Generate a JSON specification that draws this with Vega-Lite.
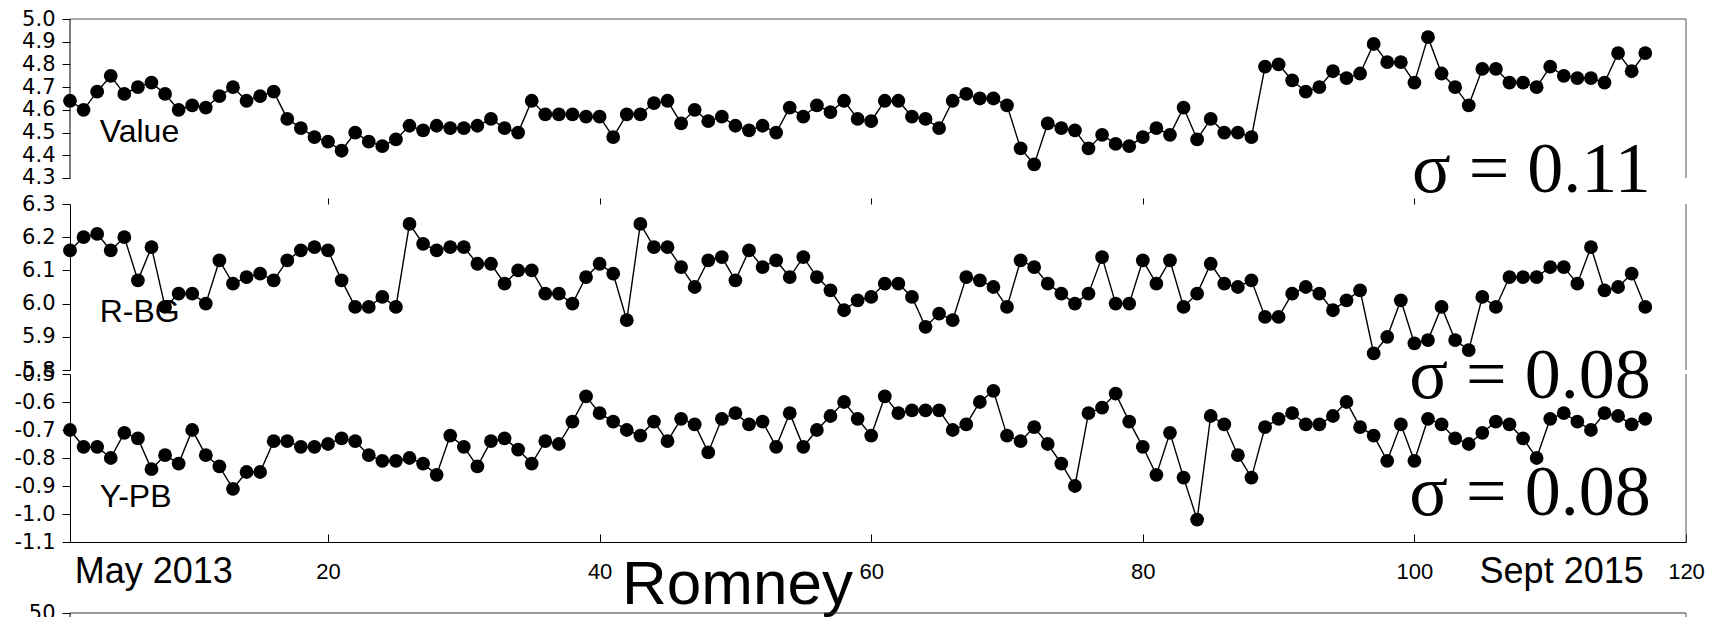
{
  "$schema": "https://vega.github.io/schema/vega-lite/v6.json",
  "padding": {"left": 14, "top": 8, "right": 0, "bottom": 0},
  "background": "white",
  "config": {
    "view": {"stroke": null},
    "locale": {"number": {"decimal": ".", "thousands": ",", "grouping": [3], "currency": ["$", ""], "minus": "-"}}
  },
  "datasets": {
    "value": [
      {"i":1,"v":4.64},{"i":2,"v":4.60},{"i":3,"v":4.68},{"i":4,"v":4.75},{"i":5,"v":4.67},{"i":6,"v":4.70},{"i":7,"v":4.72},{"i":8,"v":4.67},{"i":9,"v":4.60},{"i":10,"v":4.62},
      {"i":11,"v":4.61},{"i":12,"v":4.66},{"i":13,"v":4.70},{"i":14,"v":4.64},{"i":15,"v":4.66},{"i":16,"v":4.68},{"i":17,"v":4.56},{"i":18,"v":4.52},{"i":19,"v":4.48},{"i":20,"v":4.46},
      {"i":21,"v":4.42},{"i":22,"v":4.50},{"i":23,"v":4.46},{"i":24,"v":4.44},{"i":25,"v":4.47},{"i":26,"v":4.53},{"i":27,"v":4.51},{"i":28,"v":4.53},{"i":29,"v":4.52},{"i":30,"v":4.52},
      {"i":31,"v":4.53},{"i":32,"v":4.56},{"i":33,"v":4.52},{"i":34,"v":4.50},{"i":35,"v":4.64},{"i":36,"v":4.58},{"i":37,"v":4.58},{"i":38,"v":4.58},{"i":39,"v":4.57},{"i":40,"v":4.57},
      {"i":41,"v":4.48},{"i":42,"v":4.58},{"i":43,"v":4.58},{"i":44,"v":4.63},{"i":45,"v":4.64},{"i":46,"v":4.54},{"i":47,"v":4.60},{"i":48,"v":4.55},{"i":49,"v":4.57},{"i":50,"v":4.53},
      {"i":51,"v":4.51},{"i":52,"v":4.53},{"i":53,"v":4.50},{"i":54,"v":4.61},{"i":55,"v":4.57},{"i":56,"v":4.62},{"i":57,"v":4.59},{"i":58,"v":4.64},{"i":59,"v":4.56},{"i":60,"v":4.55},
      {"i":61,"v":4.64},{"i":62,"v":4.64},{"i":63,"v":4.57},{"i":64,"v":4.56},{"i":65,"v":4.52},{"i":66,"v":4.64},{"i":67,"v":4.67},{"i":68,"v":4.65},{"i":69,"v":4.65},{"i":70,"v":4.62},
      {"i":71,"v":4.43},{"i":72,"v":4.36},{"i":73,"v":4.54},{"i":74,"v":4.52},{"i":75,"v":4.51},{"i":76,"v":4.43},{"i":77,"v":4.49},{"i":78,"v":4.45},{"i":79,"v":4.44},{"i":80,"v":4.48},
      {"i":81,"v":4.52},{"i":82,"v":4.49},{"i":83,"v":4.61},{"i":84,"v":4.47},{"i":85,"v":4.56},{"i":86,"v":4.50},{"i":87,"v":4.50},{"i":88,"v":4.48},{"i":89,"v":4.79},{"i":90,"v":4.80},
      {"i":91,"v":4.73},{"i":92,"v":4.68},{"i":93,"v":4.70},{"i":94,"v":4.77},{"i":95,"v":4.74},{"i":96,"v":4.76},{"i":97,"v":4.89},{"i":98,"v":4.81},{"i":99,"v":4.81},{"i":100,"v":4.72},
      {"i":101,"v":4.92},{"i":102,"v":4.76},{"i":103,"v":4.70},{"i":104,"v":4.62},{"i":105,"v":4.78},{"i":106,"v":4.78},{"i":107,"v":4.72},{"i":108,"v":4.72},{"i":109,"v":4.70},{"i":110,"v":4.79},
      {"i":111,"v":4.75},{"i":112,"v":4.74},{"i":113,"v":4.74},{"i":114,"v":4.72},{"i":115,"v":4.85},{"i":116,"v":4.77},{"i":117,"v":4.85}
    ],
    "rbg": [
      {"i":1,"v":6.16},{"i":2,"v":6.20},{"i":3,"v":6.21},{"i":4,"v":6.16},{"i":5,"v":6.20},{"i":6,"v":6.07},{"i":7,"v":6.17},{"i":8,"v":5.99},{"i":9,"v":6.03},{"i":10,"v":6.03},
      {"i":11,"v":6.00},{"i":12,"v":6.13},{"i":13,"v":6.06},{"i":14,"v":6.08},{"i":15,"v":6.09},{"i":16,"v":6.07},{"i":17,"v":6.13},{"i":18,"v":6.16},{"i":19,"v":6.17},{"i":20,"v":6.16},
      {"i":21,"v":6.07},{"i":22,"v":5.99},{"i":23,"v":5.99},{"i":24,"v":6.02},{"i":25,"v":5.99},{"i":26,"v":6.24},{"i":27,"v":6.18},{"i":28,"v":6.16},{"i":29,"v":6.17},{"i":30,"v":6.17},
      {"i":31,"v":6.12},{"i":32,"v":6.12},{"i":33,"v":6.06},{"i":34,"v":6.10},{"i":35,"v":6.10},{"i":36,"v":6.03},{"i":37,"v":6.03},{"i":38,"v":6.00},{"i":39,"v":6.08},{"i":40,"v":6.12},
      {"i":41,"v":6.09},{"i":42,"v":5.95},{"i":43,"v":6.24},{"i":44,"v":6.17},{"i":45,"v":6.17},{"i":46,"v":6.11},{"i":47,"v":6.05},{"i":48,"v":6.13},{"i":49,"v":6.14},{"i":50,"v":6.07},
      {"i":51,"v":6.16},{"i":52,"v":6.11},{"i":53,"v":6.13},{"i":54,"v":6.08},{"i":55,"v":6.14},{"i":56,"v":6.08},{"i":57,"v":6.04},{"i":58,"v":5.98},{"i":59,"v":6.01},{"i":60,"v":6.02},
      {"i":61,"v":6.06},{"i":62,"v":6.06},{"i":63,"v":6.02},{"i":64,"v":5.93},{"i":65,"v":5.97},{"i":66,"v":5.95},{"i":67,"v":6.08},{"i":68,"v":6.07},{"i":69,"v":6.05},{"i":70,"v":5.99},
      {"i":71,"v":6.13},{"i":72,"v":6.11},{"i":73,"v":6.06},{"i":74,"v":6.03},{"i":75,"v":6.00},{"i":76,"v":6.03},{"i":77,"v":6.14},{"i":78,"v":6.00},{"i":79,"v":6.00},{"i":80,"v":6.13},
      {"i":81,"v":6.06},{"i":82,"v":6.13},{"i":83,"v":5.99},{"i":84,"v":6.03},{"i":85,"v":6.12},{"i":86,"v":6.06},{"i":87,"v":6.05},{"i":88,"v":6.07},{"i":89,"v":5.96},{"i":90,"v":5.96},
      {"i":91,"v":6.03},{"i":92,"v":6.05},{"i":93,"v":6.03},{"i":94,"v":5.98},{"i":95,"v":6.01},{"i":96,"v":6.04},{"i":97,"v":5.85},{"i":98,"v":5.90},{"i":99,"v":6.01},{"i":100,"v":5.88},
      {"i":101,"v":5.89},{"i":102,"v":5.99},{"i":103,"v":5.89},{"i":104,"v":5.86},{"i":105,"v":6.02},{"i":106,"v":5.99},{"i":107,"v":6.08},{"i":108,"v":6.08},{"i":109,"v":6.08},{"i":110,"v":6.11},
      {"i":111,"v":6.11},{"i":112,"v":6.06},{"i":113,"v":6.17},{"i":114,"v":6.04},{"i":115,"v":6.05},{"i":116,"v":6.09},{"i":117,"v":5.99}
    ],
    "ypb": [
      {"i":1,"v":-0.70},{"i":2,"v":-0.76},{"i":3,"v":-0.76},{"i":4,"v":-0.80},{"i":5,"v":-0.71},{"i":6,"v":-0.73},{"i":7,"v":-0.84},{"i":8,"v":-0.79},{"i":9,"v":-0.82},{"i":10,"v":-0.70},
      {"i":11,"v":-0.79},{"i":12,"v":-0.83},{"i":13,"v":-0.91},{"i":14,"v":-0.85},{"i":15,"v":-0.85},{"i":16,"v":-0.74},{"i":17,"v":-0.74},{"i":18,"v":-0.76},{"i":19,"v":-0.76},{"i":20,"v":-0.75},
      {"i":21,"v":-0.73},{"i":22,"v":-0.74},{"i":23,"v":-0.79},{"i":24,"v":-0.81},{"i":25,"v":-0.81},{"i":26,"v":-0.80},{"i":27,"v":-0.82},{"i":28,"v":-0.86},{"i":29,"v":-0.72},{"i":30,"v":-0.76},
      {"i":31,"v":-0.83},{"i":32,"v":-0.74},{"i":33,"v":-0.73},{"i":34,"v":-0.77},{"i":35,"v":-0.82},{"i":36,"v":-0.74},{"i":37,"v":-0.75},{"i":38,"v":-0.67},{"i":39,"v":-0.58},{"i":40,"v":-0.64},
      {"i":41,"v":-0.67},{"i":42,"v":-0.70},{"i":43,"v":-0.72},{"i":44,"v":-0.67},{"i":45,"v":-0.74},{"i":46,"v":-0.66},{"i":47,"v":-0.68},{"i":48,"v":-0.78},{"i":49,"v":-0.66},{"i":50,"v":-0.64},
      {"i":51,"v":-0.68},{"i":52,"v":-0.67},{"i":53,"v":-0.76},{"i":54,"v":-0.64},{"i":55,"v":-0.76},{"i":56,"v":-0.70},{"i":57,"v":-0.65},{"i":58,"v":-0.60},{"i":59,"v":-0.66},{"i":60,"v":-0.72},
      {"i":61,"v":-0.58},{"i":62,"v":-0.64},{"i":63,"v":-0.63},{"i":64,"v":-0.63},{"i":65,"v":-0.63},{"i":66,"v":-0.70},{"i":67,"v":-0.68},{"i":68,"v":-0.60},{"i":69,"v":-0.56},{"i":70,"v":-0.72},
      {"i":71,"v":-0.74},{"i":72,"v":-0.69},{"i":73,"v":-0.75},{"i":74,"v":-0.82},{"i":75,"v":-0.90},{"i":76,"v":-0.64},{"i":77,"v":-0.62},{"i":78,"v":-0.57},{"i":79,"v":-0.67},{"i":80,"v":-0.76},
      {"i":81,"v":-0.86},{"i":82,"v":-0.71},{"i":83,"v":-0.87},{"i":84,"v":-1.02},{"i":85,"v":-0.65},{"i":86,"v":-0.68},{"i":87,"v":-0.79},{"i":88,"v":-0.87},{"i":89,"v":-0.69},{"i":90,"v":-0.66},
      {"i":91,"v":-0.64},{"i":92,"v":-0.68},{"i":93,"v":-0.68},{"i":94,"v":-0.65},{"i":95,"v":-0.60},{"i":96,"v":-0.69},{"i":97,"v":-0.72},{"i":98,"v":-0.81},{"i":99,"v":-0.68},{"i":100,"v":-0.81},
      {"i":101,"v":-0.66},{"i":102,"v":-0.68},{"i":103,"v":-0.73},{"i":104,"v":-0.75},{"i":105,"v":-0.71},{"i":106,"v":-0.67},{"i":107,"v":-0.68},{"i":108,"v":-0.73},{"i":109,"v":-0.80},{"i":110,"v":-0.66},
      {"i":111,"v":-0.64},{"i":112,"v":-0.67},{"i":113,"v":-0.70},{"i":114,"v":-0.64},{"i":115,"v":-0.65},{"i":116,"v":-0.68},{"i":117,"v":-0.66}
    ]
  },
  "vconcat": [
    {
      "width": 1616, "height": 181,
      "data": {"values": [{}]},
      "resolve": {"axis": {"x": "independent", "y": "independent"}},
      "layer": [
        {"data": {"name": "value"}, "mark": {"type": "line", "color": "#000", "strokeWidth": 1.4},
         "encoding": {
           "x": {"field": "i", "type": "quantitative", "scale": {"domain": [1, 120], "nice": false, "zero": false}, "axis": null},
           "y": {"field": "v", "type": "quantitative", "scale": {"domain": [4.2031, 5.0], "nice": false, "zero": false},
                 "axis": {"title": null, "values": [4.3, 4.4, 4.5, 4.6, 4.7, 4.8, 4.9, 5.0], "format": ".1f", "domain": false, "grid": false,
                          "labelOverlap": false, "labelFlush": false, "labelBound": false, "labelFont": "DejaVu Sans", "labelFontSize": 21, "labelColor": "#000",
                          "tickColor": "#000", "tickSize": 8, "labelPadding": 7}}}},
        {"data": {"name": "value"}, "mark": {"type": "circle", "color": "#000", "size": 190, "opacity": 1},
         "encoding": {
           "x": {"field": "i", "type": "quantitative", "axis": null},
           "y": {"field": "v", "type": "quantitative", "axis": null}}},
        {"mark": {"type": "rule", "color": "#000", "strokeWidth": 1},
         "encoding": {"x": {"datum": 1, "axis": null}, "y": {"datum": 4.3, "axis": null}, "y2": {"datum": 5.0}}},
        {"mark": {"type": "rule", "color": "#555", "strokeWidth": 1},
         "encoding": {"x": {"datum": 1, "axis": null}, "x2": {"datum": 120}, "y": {"datum": 5.0, "axis": null}}},
        {"mark": {"type": "rule", "color": "#555", "strokeWidth": 1},
         "encoding": {"x": {"datum": 120, "axis": null}, "y": {"datum": 4.3, "axis": null}, "y2": {"datum": 5.0}}},
        {"mark": {"type": "text", "font": "Liberation Sans", "fontSize": 32, "align": "left", "baseline": "alphabetic", "color": "#000"},
         "encoding": {"x": {"datum": 3.19, "axis": null}, "y": {"datum": 4.458, "axis": null}, "text": {"value": "Value"}}},
        {"mark": {"type": "text", "font": "Liberation Serif", "fontSize": 72, "align": "right", "baseline": "alphabetic", "color": "#000"},
         "encoding": {"x": {"datum": 117.4, "axis": null}, "y": {"datum": 4.238, "axis": null}, "text": {"value": "σ = 0.11"}}}
      ]
    },
    {
      "width": 1616, "height": 166,
      "data": {"values": [{}]},
      "resolve": {"axis": {"x": "independent", "y": "independent"}},
      "layer": [
        {"data": {"name": "rbg"}, "mark": {"type": "line", "color": "#000", "strokeWidth": 1.4},
         "encoding": {
           "x": {"field": "i", "type": "quantitative", "scale": {"domain": [1, 120], "nice": false, "zero": false},
                 "axis": {"orient": "top", "title": null, "labels": false, "domain": false, "grid": false, "ticks": true, "tickSize": 6, "tickColor": "#000", "values": [20, 40, 60, 80, 100]}},
           "y": {"field": "v", "type": "quantitative", "scale": {"domain": [5.8, 6.3], "nice": false, "zero": false},
                 "axis": {"title": null, "values": [5.8, 5.9, 6.0, 6.1, 6.2, 6.3], "format": ".1f", "grid": false, "domainColor": "#000",
                          "labelOverlap": false, "labelFlush": false, "labelBound": false, "labelFont": "DejaVu Sans", "labelFontSize": 21, "labelColor": "#000",
                          "tickColor": "#000", "tickSize": 8, "labelPadding": 7}}}},
        {"data": {"name": "rbg"}, "mark": {"type": "circle", "color": "#000", "size": 190, "opacity": 1},
         "encoding": {
           "x": {"field": "i", "type": "quantitative", "axis": null},
           "y": {"field": "v", "type": "quantitative", "axis": null}}},
        {"mark": {"type": "rule", "color": "#555", "strokeWidth": 1},
         "encoding": {"x": {"datum": 120, "axis": null}, "y": {"datum": 5.8, "axis": null}, "y2": {"datum": 6.3}}},
        {"mark": {"type": "text", "font": "Liberation Sans", "fontSize": 32, "align": "left", "baseline": "alphabetic", "color": "#000"},
         "encoding": {"x": {"datum": 3.19, "axis": null}, "y": {"datum": 5.945, "axis": null}, "text": {"value": "R-BG"}}},
        {"mark": {"type": "text", "font": "Liberation Serif", "fontSize": 72, "align": "right", "baseline": "alphabetic", "color": "#000"},
         "encoding": {"x": {"datum": 117.4, "axis": null}, "y": {"datum": 5.7157, "axis": null}, "text": {"value": "σ = 0.08"}}}
      ]
    },
    {
      "width": 1616, "height": 168,
      "data": {"values": [{}]},
      "resolve": {"axis": {"x": "independent", "y": "independent"}},
      "layer": [
        {"data": {"name": "ypb"}, "mark": {"type": "line", "color": "#000", "strokeWidth": 1.4},
         "encoding": {
           "x": {"field": "i", "type": "quantitative", "scale": {"domain": [1, 120], "nice": false, "zero": false},
                 "axis": {"title": null, "values": [20, 40, 60, 80, 100, 120], "grid": false, "domainColor": "#000", "tickColor": "#000", "tickSize": -8, "labelPadding": 27,
                          "labelFont": "Liberation Sans", "labelFontSize": 22, "labelColor": "#000", "labelFlush": false, "labelOverlap": false, "labelBound": false}},
           "y": {"field": "v", "type": "quantitative", "scale": {"domain": [-1.1, -0.5], "nice": false, "zero": false},
                 "axis": {"title": null, "values": [-1.1, -1.0, -0.9, -0.8, -0.7, -0.6, -0.5], "format": ".1f", "grid": false, "domainColor": "#000",
                          "labelOverlap": false, "labelFlush": false, "labelBound": false, "labelFont": "DejaVu Sans", "labelFontSize": 21, "labelColor": "#000",
                          "tickColor": "#000", "tickSize": 8, "labelPadding": 7}}}},
        {"data": {"name": "ypb"}, "mark": {"type": "circle", "color": "#000", "size": 190, "opacity": 1},
         "encoding": {
           "x": {"field": "i", "type": "quantitative", "axis": null},
           "y": {"field": "v", "type": "quantitative", "axis": null}}},
        {"mark": {"type": "rule", "color": "#555", "strokeWidth": 1},
         "encoding": {"x": {"datum": 120, "axis": null}, "y": {"datum": -1.1, "axis": null}, "y2": {"datum": -0.5}}},
        {"mark": {"type": "text", "font": "Liberation Sans", "fontSize": 32, "align": "left", "baseline": "alphabetic", "color": "#000"},
         "encoding": {"x": {"datum": 3.19, "axis": null}, "y": {"datum": -0.975, "axis": null}, "text": {"value": "Y-PB"}}},
        {"mark": {"type": "text", "font": "Liberation Serif", "fontSize": 72, "align": "right", "baseline": "alphabetic", "color": "#000"},
         "encoding": {"x": {"datum": 117.4, "axis": null}, "y": {"datum": -1.0036, "axis": null}, "text": {"value": "σ = 0.08"}}},
        {"mark": {"type": "text", "font": "Liberation Sans", "fontSize": 36, "align": "left", "baseline": "alphabetic", "color": "#000"},
         "encoding": {"x": {"datum": 1.35, "axis": null}, "y": {"datum": -1.2464, "axis": null}, "text": {"value": "May 2013"}}},
        {"mark": {"type": "text", "font": "Liberation Sans", "fontSize": 36, "align": "left", "baseline": "alphabetic", "color": "#000"},
         "encoding": {"x": {"datum": 104.8, "axis": null}, "y": {"datum": -1.2464, "axis": null}, "text": {"value": "Sept 2015"}}},
        {"mark": {"type": "text", "font": "Liberation Sans", "fontSize": 62, "align": "center", "baseline": "alphabetic", "color": "#000"},
         "encoding": {"x": {"datum": 50.15, "axis": null}, "y": {"datum": -1.3214, "axis": null}, "text": {"value": "Romney"}}}
      ]
    },
    {
      "width": 1616, "height": 134,
      "data": {"values": [{}]},
      "resolve": {"axis": {"x": "independent", "y": "independent"}},
      "layer": [
        {"mark": {"type": "rule", "color": "#000", "strokeWidth": 1},
         "encoding": {"x": {"datum": 1, "scale": {"domain": [1, 120], "nice": false, "zero": false}, "axis": null},
                      "y": {"datum": 0, "scale": {"domain": [0, 100], "nice": false, "zero": false},
                            "axis": {"title": null, "values": [50], "format": "d", "domain": false, "grid": false, "labelOverlap": false, "labelFont": "DejaVu Sans", "labelFontSize": 21, "labelColor": "#000", "tickColor": "#000", "tickSize": 8, "labelPadding": 7}},
                      "y2": {"datum": 50}}},
        {"mark": {"type": "rule", "color": "#333", "strokeWidth": 1},
         "encoding": {"x": {"datum": 1, "axis": null}, "x2": {"datum": 120}, "y": {"datum": 50, "axis": null}}},
        {"mark": {"type": "rule", "color": "#555", "strokeWidth": 1},
         "encoding": {"x": {"datum": 120, "axis": null}, "y": {"datum": 0, "axis": null}, "y2": {"datum": 50}}}
      ]
    }
  ],
  "spacing": 4,
  "bounds": "flush"
}
